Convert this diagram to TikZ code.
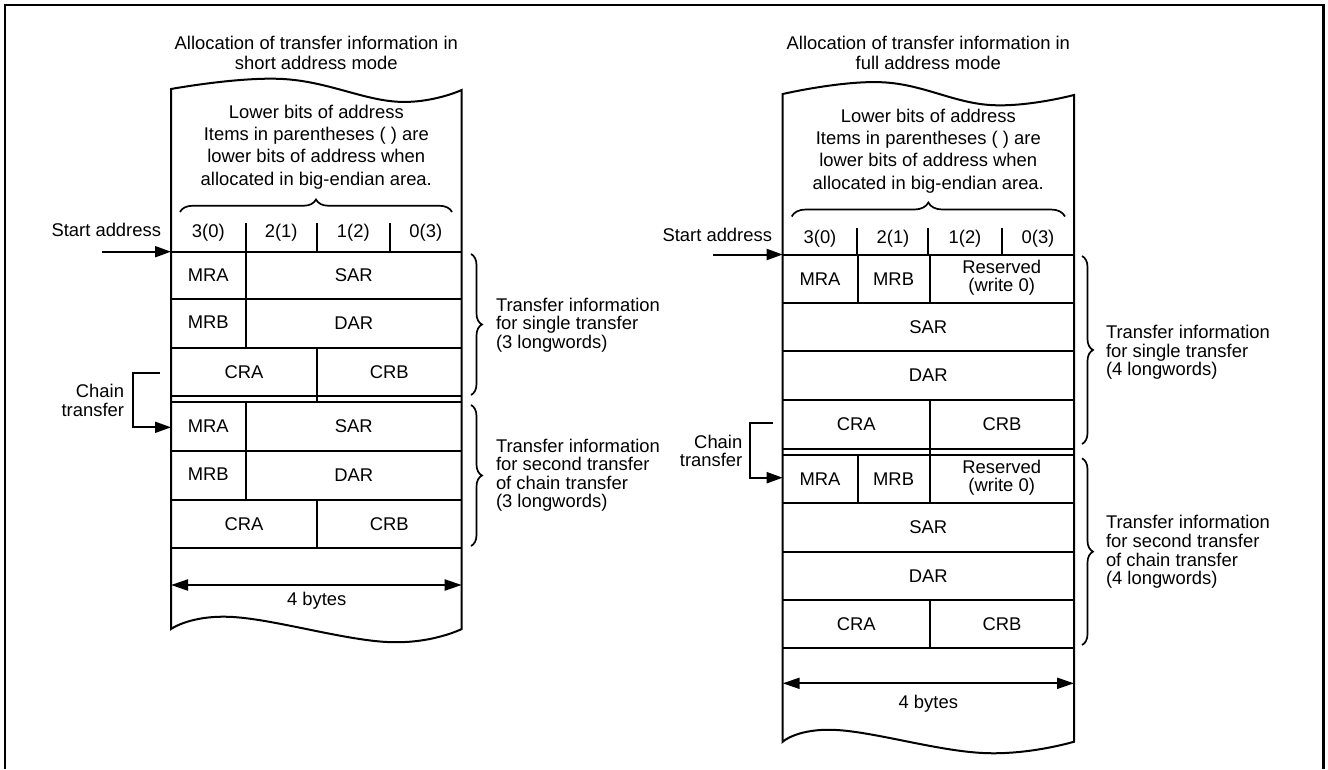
\documentclass[tikz,border=0pt]{standalone}
\usepackage{fontspec}
\setmainfont{Liberation Sans}
\usetikzlibrary{arrows.meta,decorations.pathreplacing}
\newcommand\fsTitle{\fontsize{18.4}{20}\selectfont}
\newcommand\fsHead{\fontsize{18.4}{22.2}\selectfont}
\newcommand\fsInfo{\fontsize{18.4}{18.6}\selectfont}
\newcommand\fsCell{\fontsize{18.4}{17.8}\selectfont}
\begin{document}
\begin{tikzpicture}[x=1pt,y=-1pt,line width=2pt,
  txt/.style={font=\fsTitle,inner sep=0pt,align=center},
  head/.style={font=\fsHead,inner sep=0pt,align=center},
  info/.style={font=\fsInfo,inner sep=0pt,align=left,anchor=west},
  cell/.style={font=\fsCell,inner sep=0pt,align=center},
  side/.style={font=\fsInfo,inner sep=0pt,align=right,anchor=east},
  arr/.style={-{Triangle[length=16pt,width=11pt]}},
  dblarr/.style={{Triangle[length=17pt,width=11pt]}-{Triangle[length=17pt,width=11pt]}},
  brc/.style={decorate,decoration={brace,amplitude=#1},line width=1.7pt},
  wave/.style={line width=2pt,line join=miter}]
\useasboundingbox (0,0) rectangle (1328,769);
% outer frame
\draw[line width=2.8pt] (5,769) -- (5,5) -- (1323.5,5) -- (1323.5,769);

% ================= LEFT PANEL =================
\node[txt] (t1) at (316.3,53.3) {Allocation of transfer information in\\short address mode};
\draw[wave] plot[smooth,tension=0.7] coordinates {(171,89) (283,79) (397,101.7) (461.7,90)}
  -- (461.7,629) -- plot[smooth,tension=0.7] coordinates {(461.7,629) (387,642) (233,617) (171,629)} -- cycle;
\node[head] (h1) at (316.3,147) {Lower bits of address\\Items in parentheses ( ) are\\lower bits of address when\\allocated in big-endian area.};
\draw[brc=12.5] (180,212) -- (452,212);
\node[txt] (c1a) at (208.3,233) {3(0)};
\node[txt] (c1b) at (281.2,233) {2(1)};
\node[txt] (c1c) at (353.3,233) {1(2)};
\node[txt] (c1d) at (425.8,233) {0(3)};
\foreach \x in {245.7,316.7,390} \draw (\x,223) -- (\x,251.7);
\foreach \y in {251.7,299,347.7,395.7,402.3,450.7,500,548.3} \draw (171,\y) -- (461.7,\y);
\draw (245.7,251.7) -- (245.7,347.7);
\draw (316.7,347.7) -- (316.7,402.3);
\draw (245.7,402.3) -- (245.7,500);
\draw (316.7,500) -- (316.7,548.3);
\node[cell] (l1mra) at (208.3,275.3) {MRA};
\node[cell] (l1sar) at (353.7,275.3) {SAR};
\node[cell] (l1mrb) at (208.3,322.5) {MRB};
\node[cell] (l1dar) at (353.7,323.5) {DAR};
\node[cell] (l1cra) at (244,371.7) {CRA};
\node[cell] (l1crb) at (389.2,371.7) {CRB};
\node[cell] (l2mra) at (208.3,426.5) {MRA};
\node[cell] (l2sar) at (353.7,426.5) {SAR};
\node[cell] (l2mrb) at (208.3,474.5) {MRB};
\node[cell] (l2dar) at (353.7,475.5) {DAR};
\node[cell] (l2cra) at (244,524.2) {CRA};
\node[cell] (l2crb) at (389.2,524.2) {CRB};
% start address
\node[side] (sa1) at (162,230) {Start address};
\coordinate (sa1s) at (102,251.7);
\coordinate (sa1e) at (171,251.7);
\draw[arr] (sa1s) -- (sa1e);
% chain transfer
\node[side] (ch1) at (125,400.5) {Chain\\transfer};
\coordinate (ch1a) at (160,373.3);
\coordinate (ch1b) at (133.3,373.3);
\coordinate (ch1c) at (133.3,427.3);
\coordinate (ch1d) at (171,427.3);
\draw[arr] (ch1a) -- (ch1b) -- (ch1c) -- (ch1d);
% braces and descriptions
\draw[brc=11] (471,254) -- (471,395);
\node[info] (ti1a) at (495,325) {Transfer information\\for single transfer\\(3 longwords)};
\draw[brc=11] (471,405) -- (471,546);
\node[info] (ti1b) at (495,475.3) {Transfer information\\for second transfer\\of chain transfer\\(3 longwords)};
% 4 bytes
\coordinate (by1s) at (171,585);
\coordinate (by1e) at (461.7,585);
\draw[dblarr] (by1s) -- (by1e);
\node[txt] (by1) at (316.7,601) {4 bytes};

% ================= RIGHT PANEL =================
\node[txt] (t2) at (928.3,53.3) {Allocation of transfer information in\\full address mode};
\draw[wave] plot[smooth,tension=0.7] coordinates {(782.7,94) (883,82.3) (990,105) (1074,95)}
  -- (1074,741.7) -- plot[smooth,tension=0.7] coordinates {(1074,741.7) (983,753) (836.7,730) (782.7,741.7)} -- cycle;
\node[head] (h2) at (928.3,151) {Lower bits of address\\Items in parentheses ( ) are\\lower bits of address when\\allocated in big-endian area.};
\draw[brc=14] (791.7,216.5) -- (1065,216.5);
\node[txt] (c2a) at (820,238.3) {3(0)};
\node[txt] (c2b) at (893,238.3) {2(1)};
\node[txt] (c2c) at (965,238.3) {1(2)};
\node[txt] (c2d) at (1038,238.3) {0(3)};
\foreach \x in {857.3,928.3,1001.7} \draw (\x,228) -- (\x,254.5);
\foreach \y in {254.5,303,351,400,448.5,455,503.3,551.7,600,648.3} \draw (782.7,\y) -- (1074,\y);
\draw (857.7,254.5) -- (857.7,303);
\draw (929.5,254.5) -- (929.5,303);
\draw (930,400) -- (930,455);
\draw (857.7,455) -- (857.7,503.3);
\draw (929.5,455) -- (929.5,503.3);
\draw (930,600) -- (930,648.3);
\node[cell] (r1mra) at (820,279.5) {MRA};
\node[cell] (r1mrb) at (893.6,279.5) {MRB};
\node[cell] (r1res) at (1001.7,277.5) {Reserved\\(write 0)};
\node[cell] (r1sar) at (928.3,327) {SAR};
\node[cell] (r1dar) at (928.3,375.5) {DAR};
\node[cell] (r1cra) at (856.3,424.2) {CRA};
\node[cell] (r1crb) at (1002,424.2) {CRB};
\node[cell] (r2mra) at (820,479.2) {MRA};
\node[cell] (r2mrb) at (893.6,479.2) {MRB};
\node[cell] (r2res) at (1001.7,477.5) {Reserved\\(write 0)};
\node[cell] (r2sar) at (928.3,527.5) {SAR};
\node[cell] (r2dar) at (928.3,575.8) {DAR};
\node[cell] (r2cra) at (856.3,624.2) {CRA};
\node[cell] (r2crb) at (1002,624.2) {CRB};
% start address
\node[side] (sa2) at (773,235) {Start address};
\coordinate (sa2s) at (713,254.5);
\coordinate (sa2e) at (782.7,254.5);
\draw[arr] (sa2s) -- (sa2e);
% chain transfer
\node[side] (ch2) at (743.3,451) {Chain\\transfer};
\coordinate (ch2a) at (773.3,423.3);
\coordinate (ch2b) at (750,423.3);
\coordinate (ch2c) at (750,477.7);
\coordinate (ch2d) at (782.7,477.7);
\draw[arr] (ch2a) -- (ch2b) -- (ch2c) -- (ch2d);
% braces and descriptions
\draw[brc=11] (1082,256) -- (1082,444);
\node[info] (ti2a) at (1105,352.3) {Transfer information\\for single transfer\\(4 longwords)};
\draw[brc=11] (1082,458.3) -- (1082,645);
\node[info] (ti2b) at (1105,552) {Transfer information\\for second transfer\\of chain transfer\\(4 longwords)};
% 4 bytes
\coordinate (by2s) at (782.7,683.3);
\coordinate (by2e) at (1074,683.3);
\draw[dblarr] (by2s) -- (by2e);
\node[txt] (by2) at (928.3,704) {4 bytes};
\end{tikzpicture}
\end{document}
